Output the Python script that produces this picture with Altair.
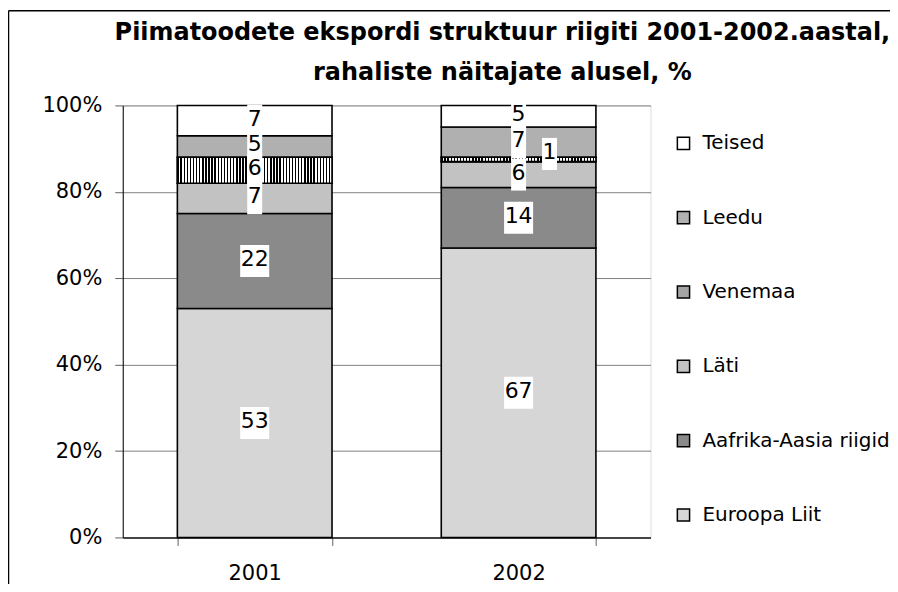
import altair as alt
import pandas as pd

years = ["2001", "2002"]
regions = ["Euroopa Liit", "Aafrika-Aasia riigid", "Läti", "Venemaa", "Leedu", "Teised"]
values_2001 = [53, 22, 7, 6, 5, 7]
values_2002 = [67, 14, 6, 1, 7, 5]
legend_order = ["Teised", "Leedu", "Venemaa", "Läti", "Aafrika-Aasia riigid", "Euroopa Liit"]
region_colors = ["#ffffff", "#b0b0b0", "#a4a4a4", "#c2c2c2", "#8a8a8a", "#d6d6d6"]
title_lines = ["Piimatoodete ekspordi struktuur riigiti 2001-2002.aastal,",
               "rahaliste näitajate alusel, %"]

rows = []
for y, vals in zip(years, [values_2001, values_2002]):
    for i, (r, v) in enumerate(zip(regions, vals)):
        rows.append({"year": y, "region": r, "value": v, "order": i})
df = pd.DataFrame(rows)

FONT = "DejaVu Sans"

base = (
    alt.Chart(df)
    .transform_calculate(pct="datum.value/100")
    .transform_stack(stack="pct", groupby=["year"], as_=["lo", "hi"],
                     sort=[alt.SortField("order", order="ascending")])
    .transform_calculate(mid="(datum.lo+datum.hi)/2",
                         nd="datum.value >= 10 ? 'w' : 'n'")
)

xscale = alt.Scale(paddingInner=0.414, paddingOuter=0.207)
xenc = alt.X("year:N", scale=xscale,
             axis=alt.Axis(title=None, labelAngle=0, tickBand="extent", tickSize=8,
                           tickColor="#606060", domainColor="#202020", domainWidth=1.5,
                           labelFont=FONT, labelFontSize=21, labelColor="black",
                           labelPadding=17, grid=False))

yscale = alt.Scale(domain=[0, 1], nice=False)

bars = base.mark_bar(stroke="black", strokeWidth=1.6).encode(
    x=xenc,
    y=alt.Y("lo:Q", scale=yscale,
            axis=alt.Axis(title=None, format=".0%", values=[0, 0.2, 0.4, 0.6, 0.8, 1.0],
                          tickSize=8, tickColor="#606060", domainColor="black",
                          labelFont=FONT, labelFontSize=21, labelColor="black",
                          labelPadding=13, grid=True, gridColor="#808080", gridWidth=1)),
    y2="hi:Q",
    fill=alt.Fill("region:N",
                  scale=alt.Scale(domain=legend_order, range=region_colors),
                  legend=alt.Legend(title=None, orient="none", legendX=552, legendY=28,
                                    symbolType="square", symbolSize=150,
                                    symbolStrokeColor="black", symbolStrokeWidth=1.5,
                                    labelFont=FONT, labelFontSize=20, labelColor="black",
                                    labelOffset=9, rowPadding=54.5, labelLimit=400)),
)

# vertical-stripe texture for Venemaa (drawn via a striped linear gradient)
n_stripes = 50
stops = []
for k in range(n_stripes):
    a = k / n_stripes
    b = (k + 0.45) / n_stripes
    c = (k + 1) / n_stripes
    stops += [alt.GradientStop(offset=a, color="black"), alt.GradientStop(offset=b, color="black"),
              alt.GradientStop(offset=b, color="white"), alt.GradientStop(offset=c, color="white")]
stripes = alt.LinearGradient(gradient="linear", x1=0, x2=1, y1=0, y2=0, stops=stops)

venemaa = base.transform_filter("datum.region == 'Venemaa'").mark_bar(
    fill=stripes, stroke="black", strokeWidth=1.6).encode(
    x=alt.X("year:N", scale=xscale), y=alt.Y("lo:Q", scale=yscale), y2="hi:Q")

box_shapes = alt.Scale(domain=["n", "w"],
                       range=["M-0.5,-1.07L0.5,-1.07L0.5,1.07L-0.5,1.07Z",
                              "M-0.97,-1.07L0.97,-1.07L0.97,1.07L-0.97,1.07Z"])

def label_layers(cond, xo, yo):
    b = base.transform_filter(cond)
    boxes = b.mark_point(filled=True, fill="white", opacity=1, strokeWidth=0,
                         size=900, xOffset=xo, yOffset=yo).encode(
        x="year:N", y=alt.Y("mid:Q", scale=yscale),
        shape=alt.Shape("nd:N", scale=box_shapes, legend=None))
    texts = b.mark_text(font=FONT, fontSize=22, color="black", baseline="middle",
                        dx=xo, dy=yo - 2).encode(
        x="year:N", y=alt.Y("mid:Q", scale=yscale), text="value:Q")
    return [boxes, texts]

labels_main = label_layers("datum.value >= 3", 0, 0)
labels_small = label_layers("datum.value < 3", 31, -5.5)

title1 = alt.Chart(alt.Data(values=[{"t": title_lines[0]}])).mark_text(
    font=FONT, fontWeight="bold", fontSize=24, color="black", baseline="alphabetic",
    align="center").encode(x=alt.value(380.5), y=alt.value(-66), text="t:N")
title2 = alt.Chart(alt.Data(values=[{"t": title_lines[1]}])).mark_text(
    font=FONT, fontWeight="bold", fontSize=24, color="black", baseline="alphabetic",
    align="center").encode(x=alt.value(380.5), y=alt.value(-25), text="t:N")

frame_top = alt.Chart(alt.Data(values=[{}])).mark_rule(color="black", strokeWidth=1.5).encode(
    x=alt.value(-114.5), x2=alt.value(900), y=alt.value(-95))
frame_left = alt.Chart(alt.Data(values=[{}])).mark_rule(color="black", strokeWidth=1.5).encode(
    x=alt.value(-114.5), y=alt.value(-95), y2=alt.value(600))

chart = alt.layer(
    bars, venemaa, *labels_main, *labels_small, title1, title2, frame_top, frame_left
).properties(
    width=529, height=433,
    autosize=alt.AutoSizeParams(type="none"),
    padding={"left": 115, "top": 97, "right": 240, "bottom": 46},
).configure_view(stroke="#808080", strokeWidth=1).configure(background="white")

chart.save("out.html", embed_options={"renderer": "svg", "actions": False})
